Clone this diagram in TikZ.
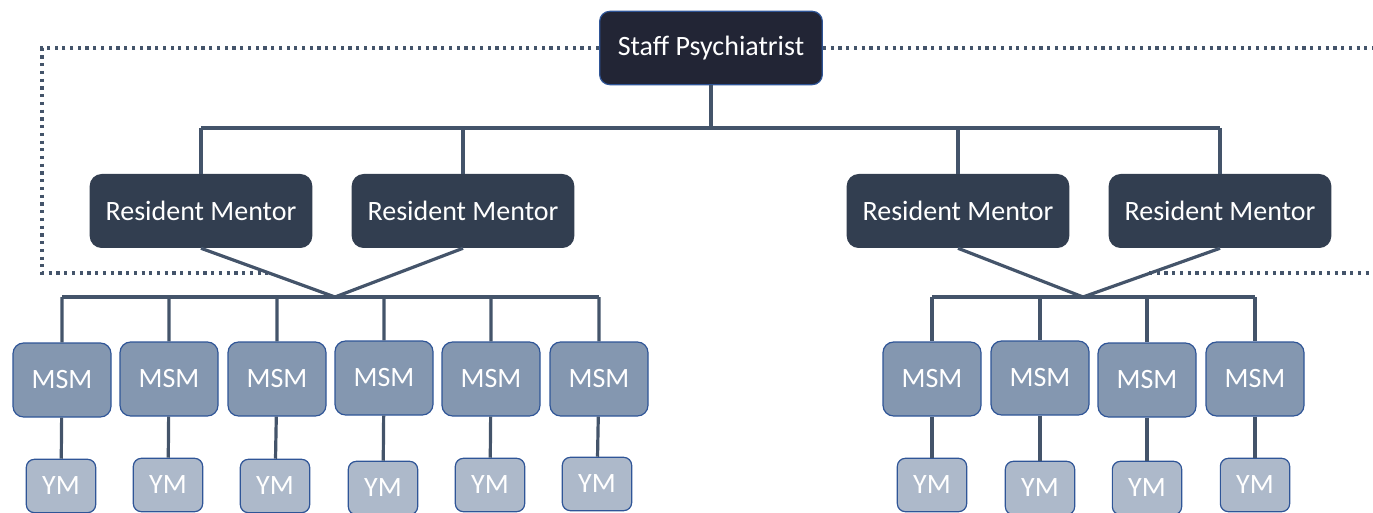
\documentclass[tikz,border=0pt]{standalone}
\usepackage{fontspec}
\setmainfont{Carlito}
\usepackage{tikz}
\definecolor{linkgray}{HTML}{44546A}
\definecolor{staffnavy}{HTML}{222535}
\definecolor{mentorslate}{HTML}{323E50}
\definecolor{msmblue}{HTML}{8497B0}
\definecolor{ymblue}{HTML}{ADB9CA}
\definecolor{edgeblue}{HTML}{2F5597}
\tikzset{
  box/.style = {align=center, inner sep=0pt, text centered, white,
    font=\fontsize{21}{25}\selectfont},
  staff/.style = {box, rectangle, rounded corners=7.5pt, fill=staffnavy,
    draw=edgeblue, line width=0.9pt, minimum width=167pt, minimum height=55pt},
  mentor/.style = {box, rectangle, rounded corners=9pt, fill=mentorslate,
    minimum width=167pt, minimum height=55.5pt},% dark, no border
  msm/.style = {box, rectangle, rounded corners=8pt, fill=msmblue,
    draw=edgeblue, line width=0.9pt, minimum width=73.5pt, minimum height=55.5pt},
  ym/.style = {box, rectangle, rounded corners=6pt, fill=ymblue,
    draw=edgeblue, line width=0.9pt, minimum width=52pt, minimum height=40pt},
  link/.style = {draw=linkgray, line width=2.4pt},
  dotline/.style = {draw=linkgray, line width=2.4pt, dash pattern=on 2.4pt off 3.4pt}
}
\begin{document}
\begin{tikzpicture}[x=0.75pt,y=-0.75pt]
\useasboundingbox (0,0) rectangle (1373,513);
% top
\node [staff] (staff) at (711,48) {Staff Psychiatrist};
\node [mentor] (rm1) at (201,211) {Resident Mentor};
\node [mentor] (rm2) at (463,211) {Resident Mentor};
\node [mentor] (rm3) at (958,211) {Resident Mentor};
\node [mentor] (rm4) at (1220,211) {Resident Mentor};
\coordinate (bus) at (711,128);
\coordinate (jl) at (335,297);
\coordinate (jr) at (1083,297);
% dotted frame, behind the links
\coordinate (dl) at (42,273);
\coordinate (dle) at (269,273);
\coordinate (dre) at (1149,273);
\coordinate (drr) at (1373,273);
\coordinate (dtr) at (1373,48);
\draw [dotline] (staff.west) -| (dl) -- (dle);
\draw [dotline] (staff.east) -- (dtr);
\draw [dotline] (dre) -- (drr);
% left group
\node [msm] (m1) at (62,380) {MSM};
\node [msm] (m2) at (169,379) {MSM};
\node [msm] (m3) at (277,379) {MSM};
\node [msm] (m4) at (384,378) {MSM};
\node [msm] (m5) at (491,379) {MSM};
\node [msm] (m6) at (599,379) {MSM};
\node [ym] (y1) at (61,486) {YM};
\node [ym] (y2) at (168,485) {YM};
\node [ym] (y3) at (275,486) {YM};
\node [ym] (y4) at (383,488) {YM};
\node [ym] (y5) at (490,485) {YM};
\node [ym] (y6) at (597,484) {YM};
% right group
\node [msm] (m7) at (932,379) {MSM};
\node [msm] (m8) at (1040,378) {MSM};
\node [msm] (m9) at (1147,380) {MSM};
\node [msm] (m10) at (1255,379) {MSM};
\node [ym] (y7) at (932,485) {YM};
\node [ym] (y8) at (1040,488) {YM};
\node [ym] (y9) at (1147,488) {YM};
\node [ym] (y10) at (1255,485) {YM};
% links
\draw [link] (staff) -- (staff |- bus);
\draw [link] (rm1 |- bus) -- (rm4 |- bus);
\draw [link] (rm1 |- bus) -- (rm1);
\draw [link] (rm2 |- bus) -- (rm2);
\draw [link] (rm3 |- bus) -- (rm3);
\draw [link] (rm4 |- bus) -- (rm4);
\draw [link] (rm1.south) -- (jl) -- (rm2.south);
\draw [link] (rm3.south) -- (jr) -- (rm4.south);
\draw [link] (m1 |- jl) -- (m6 |- jl);
\draw [link] (m7 |- jr) -- (m10 |- jr);
\draw [link] (m1 |- jl) -- (m1) -- (y1);
\draw [link] (m2 |- jl) -- (m2) -- (y2);
\draw [link] (m3 |- jl) -- (m3) -- (y3);
\draw [link] (m4 |- jl) -- (m4) -- (y4);
\draw [link] (m5 |- jl) -- (m5) -- (y5);
\draw [link] (m6 |- jl) -- (m6) -- (y6);
\draw [link] (m7 |- jr) -- (m7) -- (y7);
\draw [link] (m8 |- jr) -- (m8) -- (y8);
\draw [link] (m9 |- jr) -- (m9) -- (y9);
\draw [link] (m10 |- jr) -- (m10) -- (y10);
\end{tikzpicture}
\end{document}
